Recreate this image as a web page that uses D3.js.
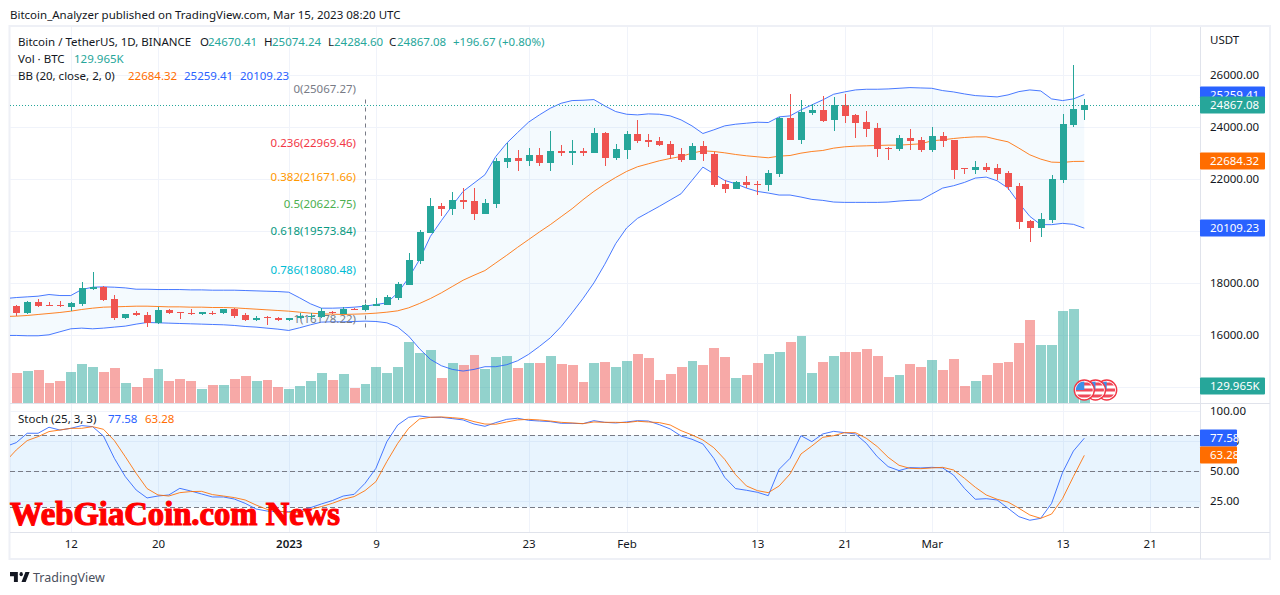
<!DOCTYPE html>
<html><head><meta charset="utf-8">
<script src="https://cdn.jsdelivr.net/npm/d3@7/dist/d3.min.js"></script>
<style>
html,body{margin:0;padding:0;background:#fff;overflow:hidden}
svg{display:block}
text{font-family:"Noto Sans",sans-serif;font-size:11.5px;fill:#131722}
</style></head><body><svg id="c" width="1280" height="595"></svg>
<script>
// ---------- data (prices), index 0 = 7 Dec 2022 ----------
const opens=[17129,16821,17283,17167,17167,17090,17206,17783,17834,17398,16629,16821,16770,16437,16937,16860,16847,16783,16847,16821,16975,16744,16552,16667,16654,16552,16629,16667,16667,16885,16808,16988,16937,17129,17167,17436,17937,18859,19936,20975,20859,21205,21167,20667,21052,22667,22821,22705,22936,22628,23090,23013,23090,23013,23782,22821,23128,23744,23513,23474,23359,22974,22744,23282,22974,21821,21628,21898,21808,21782,22206,24359,23513,24552,24667,24282,24859,24475,24205,23974,23205,23167,23590,23513,23128,23667,23513,22411,22359,22475,22436,22244,21744,20398,20129,20436,21975,24090,24670.41];
const highs=[17167,17308,17385,17283,17308,17270,18052,18436,17898,17552,16820,16898,16860,17090,16975,16872,17013,16885,16911,16980,17039,16821,16706,16706,16667,16660,16821,16821,17026,16924,17077,17026,17193,17436,17552,18052,19167,20052,21282,21090,21513,21667,21667,21244,22808,23385,23128,23205,23205,23859,23321,23513,23205,23974,23821,23359,23859,24282,23744,23628,23474,23205,23398,23474,23051,21975,21936,22128,21936,22359,24411,25282,25052,24898,25205,25167,25282,24513,24628,24167,23231,23705,23936,23628,24013,23821,23520,22420,22705,22629,22590,22321,21859,20405,20706,22167,24513,26398,25074.24];
const lows=[16719,16783,17090,17129,17090,16924,17129,17744,17321,16552,16610,16706,16283,16430,16783,16590,16770,16770,16744,16808,16629,16513,16513,16360,16513,16545,16590,16590,16642,16783,16783,16937,16898,17120,17160,17360,17930,18744,19930,20590,20628,20859,20436,20660,20898,22436,22321,22513,22513,22321,22898,22551,22898,23005,22513,22744,22782,23398,23244,23282,22782,22667,22740,22705,21705,21474,21620,21667,21398,21551,22090,23505,23359,24475,24205,23859,24167,23590,23628,22859,22744,23090,23128,23052,23052,23244,22013,22206,22206,22282,21975,21590,20090,19590,19783,20321,21859,24013,24284.60];
const closes=[16821,17283,17129,17142,17103,17244,17821,17860,17360,16629,16808,16744,16437,16937,16821,16834,16783,16860,16821,16975,16706,16552,16654,16654,16552,16654,16706,16706,16898,16821,16975,16950,17167,17206,17475,17975,18898,19975,20975,20859,21205,21128,20667,21090,22705,22821,22705,22936,22628,23090,23013,23090,23013,23782,22821,23167,23744,23474,23436,23321,22936,22744,23282,22974,21782,21628,21898,21782,21782,22244,24372,23513,24590,24667,24244,24859,24436,24167,23936,23167,23180,23590,23475,23128,23667,23475,22359,22372,22475,22359,22206,21706,20359,20129,20475,22013,24129,24705,24867.08];
const volumes=[229,245,252,153,168,237,298,275,237,268,153,122,191,260,168,183,168,107,138,138,183,206,168,176,122,107,130,168,229,176,222,115,145,275,229,275,466,382,405,191,306,290,367,260,352,359,268,306,306,359,298,290,161,306,313,275,321,375,344,176,222,275,321,290,420,352,191,214,306,375,390,466,512,229,313,359,390,390,413,359,199,214,298,275,329,252,336,130,168,214,306,313,459,634,443,443,703,719,129.965];
const redVolumeDays=[51];
// line series start one day earlier (6 Dec) so they reach the pane's left edge
const bbUpper=[17398,17436,17462,17488,17552,17513,17513,17744,17834,17847,17834,17808,17757,17757,17744,17744,17744,17731,17731,17719,17719,17719,17706,17693,17680,17667,17642,17424,17193,17026,17026,17039,17065,17103,17167,17231,17616,18193,18898,19795,20398,20975,21526,21846,22167,22872,23385,23795,24192,24474,24731,24923,25026,25039,25064,24821,24603,24500,24474,24513,24500,24436,24282,24051,23757,23898,24051,24115,24154,24192,24180,24398,24436,24667,24859,25052,25270,25359,25436,25462,25462,25475,25500,25526,25513,25500,25411,25359,25282,25218,25193,25167,25244,25372,25436,25398,25090,25026,25090,25259.41];
const bbBasis=[16706,16719,16744,16783,16821,16860,16911,16975,17026,17065,17077,17090,17103,17103,17090,17077,17077,17065,17065,17052,17052,17039,17013,16988,16962,16937,16911,16872,16834,16808,16795,16783,16795,16808,16834,16872,16924,17039,17206,17398,17616,17859,18103,18295,18475,18770,19064,19372,19667,19962,20244,20552,20859,21205,21526,21808,22064,22295,22475,22590,22705,22795,22872,23000,23090,23064,23013,22949,22898,22859,22821,22885,22910,23000,23064,23103,23193,23244,23270,23282,23295,23308,23308,23334,23359,23475,23513,23564,23603,23628,23628,23526,23436,23193,22936,22770,22654,22641,22680,22684.32];
const bbLower=[15975,15975,15962,15962,16000,16116,16231,16257,16231,16257,16296,16334,16411,16475,16462,16449,16436,16424,16411,16398,16385,16360,16321,16296,16257,16218,16167,16270,16385,16488,16500,16500,16513,16526,16513,16462,16296,15950,15462,15052,14808,14667,14603,14667,14770,14770,14847,15000,15244,15552,15885,16321,16847,17398,18000,18718,19513,20116,20487,20718,20949,21193,21436,21949,22462,22205,21949,21821,21654,21526,21462,21385,21385,21308,21218,21180,21116,21103,21103,21103,21103,21116,21154,21180,21193,21424,21654,21744,21872,22039,22077,21936,21654,21077,20564,20244,20244,20295,20257,20109.23];
const stochK=[70.6,73.9,81.7,81.7,86.7,84.4,85.8,88.1,87.2,79.4,60.8,45.6,34.4,27.8,29.4,30.3,35.8,33.6,31.1,28.6,28.6,26.9,23.3,18.6,16.9,16.4,16.4,17.2,19.7,22.8,25.6,29.4,30.8,40,52.5,74.7,88.6,95,96.1,95,95,93.9,92.8,89.4,87.5,90.6,93.3,94.2,92.5,91.9,91.4,90,90,89.7,92.2,90.8,90.3,91.1,92.2,91.9,88.9,85.3,79.4,76.7,72.8,60.8,45,35.6,34.2,32.5,29.7,51.7,60.8,79.7,74.7,81.1,83.3,82.2,81.1,73.3,62.2,53.9,50.6,53.1,52.8,53.3,52.8,46.9,35.8,26.7,27.2,26.1,19.2,12.2,9.2,10.8,23.3,48.9,66.9,77.58];
const stochD=[58,67.8,75.6,78.9,83.1,84.4,85.8,85.8,87.2,85,75.6,62.2,48.3,35.6,30.3,29.4,32.2,33.1,33.3,30.6,29.4,28.1,26.1,21.9,18.3,16.9,15.8,15.8,18.3,20.6,23.3,26.7,28.9,33.9,41.4,58.1,73.3,85.8,93.6,95,95.3,94.7,93.9,91.4,89.4,89.2,91.1,92.8,93.3,92.8,91.9,90.8,90.3,89.7,91.1,90.8,90.8,90.6,91.7,91.1,90.6,88.6,83.9,80.3,76.1,69.7,60,47.2,37.8,33.9,32.2,37.8,47.8,64.4,71.1,78.3,79.7,82.2,82.2,77.5,70.6,61.7,55,52.5,52.2,52.8,53.3,51.1,44.2,36.7,30.3,26.7,24.4,19.2,13.6,10.8,14.4,27.2,45.6,63.28];
const timeTickDays=[5,13,25,33,47,56,68,76,84,96,104];
const timeTickLabels=["12","20","2023","9","23","Feb","13","21","Mar","13","21"];
const priceTicks=[26000,24000,22000,20000,18000,16000];
const priceGrid=[26000,24000,22000,20000,18000,16000,14000];
const stochTicks=[100,75,50,25];
const stochBands=[80,50,20];
const fibDay=32;
const fibLevels=[0,0.236,0.382,0.5,0.618,0.786,1];
const fibPrices=[25067.27,22969.46,21671.66,20622.75,19573.84,18080.48,16178.22];
const fibColors=["#787b86","#f23645","#ff9800","#4caf50","#089981","#00bcd4","#787b86"];
const flagDayOffsets=[0,1,2];

// ---------- layout ----------
const UP="#26a69a",DN="#ef5350",BLUE="#2962ff",ORG="#ff6d00";
const L=10,R=1200,OR=1270,T=27,MB=403,SB=532,OB=559;
const svg=d3.select("#c");
const x=d3.scaleLinear().domain([0,98]).range([16.3,1084.3]);
const y=d3.scaleLinear().domain([14000,26000]).range([386.7,75.3]);
const yVol=d3.scaleLinear().domain([0,1000]).range([403,272.2]);
const yS=d3.scaleLinear().domain([0,100]).range([531.3,411.3]);
const lineDay=i=>i-1;

const defs=svg.append("defs");
defs.append("clipPath").attr("id","main").append("rect").attr("x",L).attr("y",T).attr("width",R-L).attr("height",MB-T);
defs.append("clipPath").attr("id","sto").append("rect").attr("x",L).attr("y",MB).attr("width",R-L).attr("height",SB-MB);

// frame
svg.append("rect").attr("x",9.5).attr("y",26).attr("width",OR-9.5).attr("height",OB-26).attr("fill","#fff").attr("stroke","#eef0f6").attr("stroke-width",2);

// grid
const grid=svg.append("g").attr("stroke","#f0f3fa").attr("shape-rendering","crispEdges");
grid.selectAll(".h").data(priceGrid).join("line").attr("x1",L).attr("x2",R).attr("y1",d=>Math.round(y(d))).attr("y2",d=>Math.round(y(d)));
grid.selectAll(".s").data(stochTicks).join("line").attr("x1",L).attr("x2",R).attr("y1",d=>Math.round(yS(d))).attr("y2",d=>Math.round(yS(d)));
grid.selectAll(".v").data(timeTickDays).join("line").attr("x1",d=>Math.round(x(d))).attr("x2",d=>Math.round(x(d))).attr("y1",T).attr("y2",SB);

// dividers
const dv=svg.append("g").attr("stroke","#e0e3eb").attr("shape-rendering","crispEdges");
dv.append("line").attr("x1",L).attr("x2",OR).attr("y1",MB+.5).attr("y2",MB+.5);
dv.append("line").attr("x1",L).attr("x2",OR).attr("y1",SB+.5).attr("y2",SB+.5);
dv.append("line").attr("x1",R+.5).attr("x2",R+.5).attr("y1",T).attr("y2",OB);

// Main pane
const main=svg.append("g").attr("clip-path","url(#main)");
const bbArea=d3.area().x((d,i)=>x(lineDay(i))).y0((d,i)=>y(bbLower[i])).y1(d=>y(d));
main.append("path").attr("d",bbArea(bbUpper)).attr("fill","rgba(33,150,243,0.05)");

// volume
const volX=i=>Math.round(x(i)-5.45);
main.selectAll(".vol").data(volumes).join("rect")
 .attr("x",(d,i)=>volX(i)+1).attr("width",(d,i)=>volX(i+1)-volX(i)-1)
 .attr("y",d=>yVol(d)).attr("height",d=>yVol(0)-yVol(d))
 .attr("fill",(d,i)=>(closes[i]>=opens[i]&&!redVolumeDays.includes(i))?"rgba(38,166,154,0.5)":"rgba(239,83,80,0.5)")
 .attr("shape-rendering","crispEdges");

// bb lines
const ln=d3.line().x((d,i)=>x(lineDay(i))).y(d=>y(d));
[[bbUpper,BLUE],[bbLower,BLUE],[bbBasis,ORG]].forEach(([a,c])=>main.append("path").attr("d",ln(a)).attr("fill","none").attr("stroke",c).attr("stroke-width",1).attr("opacity",.85));

// fib
main.append("line").attr("x1",Math.round(x(fibDay))+.5).attr("x2",Math.round(x(fibDay))+.5).attr("y1",y(fibPrices[0])).attr("y2",y(fibPrices[6]))
 .attr("stroke","#787b86").attr("stroke-dasharray","4 4");
main.selectAll(".fib").data(fibLevels).join("text").attr("x",356).attr("y",(d,i)=>y(fibPrices[i])-7).attr("text-anchor","end")
 .style("fill",(d,i)=>fibColors[i]).text((d,i)=>`${d}(${fibPrices[i].toFixed(2)})`);

// candles
const cs=main.append("g");
opens.forEach((o,i)=>{
 const c=closes[i]>=o?UP:DN,px=Math.round(x(i));
 cs.append("rect").attr("x",px).attr("width",1).attr("y",y(highs[i])).attr("height",y(lows[i])-y(highs[i])).attr("fill",c).attr("shape-rendering","crispEdges");
 const top=y(Math.max(o,closes[i])),bot=y(Math.min(o,closes[i]));
 cs.append("rect").attr("x",px-3).attr("width",7).attr("y",top).attr("height",Math.max(1,bot-top)).attr("fill",c).attr("shape-rendering","crispEdges");
});

// last price line
main.append("line").attr("x1",L).attr("x2",R).attr("y1",Math.round(y(closes[98]))+.5).attr("y2",Math.round(y(closes[98]))+.5)
 .attr("stroke",UP).attr("stroke-dasharray","1 2");

// flags
const flagG=main.append("g");
defs.append("clipPath").attr("id","fl").append("circle").attr("r",8.5);
flagDayOffsets.slice().reverse().forEach(k=>{
 const g=flagG.append("g").attr("transform",`translate(${x(98+k)+k*0.3},390)`);
 g.append("circle").attr("r",10).attr("fill","#fff").attr("stroke","#f23645").attr("stroke-width",1.4);
 const f=g.append("g").attr("clip-path","url(#fl)");
 f.append("rect").attr("x",-9).attr("y",-9).attr("width",18).attr("height",18).attr("fill","#fff");
 [-6,0,6].forEach(s=>f.append("rect").attr("x",-9).attr("y",s-1.5).attr("width",18).attr("height",3).attr("fill","#f0495b"));
 f.append("rect").attr("x",-9).attr("y",-9).attr("width",9).attr("height",9).attr("fill","#3d8fe8");
});

// stoch pane
const sto=svg.append("g").attr("clip-path","url(#sto)");
sto.append("rect").attr("x",L).attr("width",R-L).attr("y",yS(80)).attr("height",yS(20)-yS(80)).attr("fill","rgba(33,150,243,0.1)");
sto.selectAll(".b").data(stochBands).join("line").attr("x1",L).attr("x2",R).attr("y1",d=>Math.round(yS(d))+.5).attr("y2",d=>Math.round(yS(d))+.5)
 .attr("stroke","#787b86").attr("stroke-dasharray","5 3");
const sl=d3.line().x((d,i)=>x(lineDay(i))).y(d=>yS(d));
sto.append("path").attr("d",sl(stochK)).attr("fill","none").attr("stroke",BLUE).attr("opacity",.85);
sto.append("path").attr("d",sl(stochD)).attr("fill","none").attr("stroke",ORG).attr("opacity",.85);

// axes
const noDomain=g=>{g.select(".domain").remove();g.selectAll(".tick line").remove();g.selectAll("text").attr("fill",null)};
svg.append("g").attr("transform",`translate(${R+10},0)`).call(d3.axisRight(y).tickValues(priceTicks).tickFormat(d3.format(".2f")).tickPadding(0).tickSize(0)).call(noDomain).attr("font-family",null).attr("font-size",null);
svg.append("g").attr("transform",`translate(${R+10},0)`).call(d3.axisRight(yS).tickValues(stochTicks).tickFormat(d3.format(".2f")).tickPadding(0).tickSize(0)).call(noDomain).attr("font-family",null).attr("font-size",null);
svg.append("g").attr("transform",`translate(0,540)`).call(d3.axisBottom(x).tickValues(timeTickDays).tickFormat((d,i)=>timeTickLabels[i]).tickPadding(0).tickSize(0)).call(noDomain).attr("font-family",null).attr("font-size",null);
svg.selectAll(".tick text").filter(function(){return this.textContent==="2023"}).style("font-weight","600");

// badges
const badges=[["25259.41",y(25259.41),BLUE],["24867.08",y(24867.08),UP],["22684.32",y(22684.32),ORG],["20109.23",y(20109.23),BLUE],["129.965K",yVol(129.965),UP],["77.58",yS(77.58),BLUE],["63.28",yS(63.28),ORG]];
const bg=svg.selectAll(".badge").data(badges).join("g").attr("transform",d=>`translate(1200,${Math.round(d[1])})`);
bg.append("rect").attr("x",0).attr("y",-8.5).attr("width",d=>d[0]==="77.58"||d[0]==="63.28"?37:65).attr("height",17).attr("rx",1).attr("fill",d=>d[2]);
bg.append("text").attr("x",10).attr("dy","0.36em").style("fill","#fff").text(d=>d[0]);

// headers
svg.append("text").attr("x",10).attr("y",19).text("Bitcoin_Analyzer published on TradingView.com, Mar 15, 2023 08:20 UTC");
svg.append("text").attr("x",1210).attr("y",44).text("USDT");

function legend(xp,yp,parts){parts.forEach(([t,c,xx])=>svg.append("text").attr("x",xx).attr("y",yp).style("fill",c).text(t));}
legend(18,46,[["Bitcoin / TetherUS, 1D, BINANCE","#131722",18],["O","#131722",200],["24670.41",UP,208],["H","#131722",264],["25074.24",UP,272],["L","#131722",328],["24284.60",UP,334],["C","#131722",389],["24867.08",UP,397],["+196.67 (+0.80%)",UP,453]]);
legend(18,63,[["Vol · BTC","#131722",18],["129.965K",UP,74]]);
legend(18,80,[["BB (20, close, 2, 0)","#131722",18],["22684.32",ORG,128],["25259.41",BLUE,184],["20109.23",BLUE,240]]);
legend(18,423,[["Stoch (25, 3, 3)","#131722",18],["77.58",BLUE,108],["63.28",ORG,145]]);

// watermark
svg.append("text").attr("x",10).attr("y",525).attr("textLength",330).attr("lengthAdjust","spacingAndGlyphs")
 .style("font-family","'Liberation Serif',serif").style("font-size","33px").style("font-weight","900").style("fill","#f00").style("stroke","#f00").style("stroke-width","1.2px").text("WebGiaCoin.com News");

// footer
const logo=svg.append("g").attr("transform","translate(10,572) scale(0.56,0.71) translate(0,-6)").attr("fill","#131722");
logo.append("path").attr("d","M14 6H0v6h7v8h7V6Z M28 20h-7.5l7-14H35l-7 14Z");
logo.append("circle").attr("cx",20).attr("cy",9).attr("r",3);
svg.append("text").attr("x",33).attr("y",582).style("font-size","12.5px").style("fill","#4a4f5c").text("TradingView");
</script></body></html>
